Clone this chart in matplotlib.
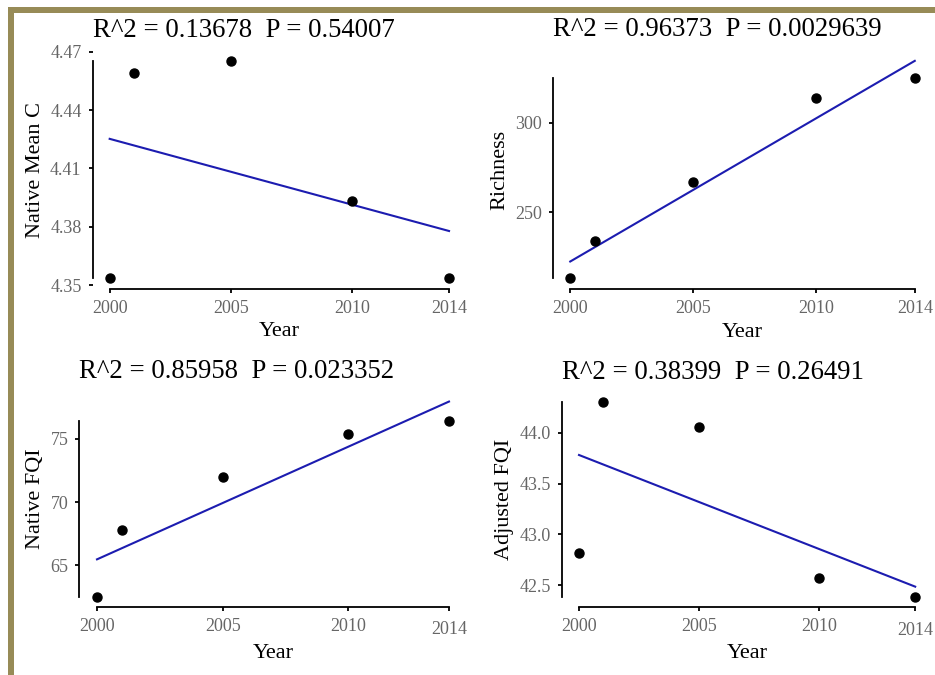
import numpy as np
import matplotlib
matplotlib.use("Agg")
import matplotlib.pyplot as plt
from matplotlib.patches import Rectangle

years = [2000, 2001, 2005, 2010, 2014]
native_mean_c = [4.3537, 4.459, 4.465, 4.393, 4.3537]
richness = [213.3, 234.2, 266.8, 313.8, 324.8]
native_fqi = [62.5, 67.8, 72.0, 75.4, 76.4]
adjusted_fqi = [42.82, 44.30, 44.06, 42.57, 42.38]

titles = ["R^2 = 0.13678  P = 0.54007",
          "R^2 = 0.96373  P = 0.0029639",
          "R^2 = 0.85958  P = 0.023352",
          "R^2 = 0.38399  P = 0.26491"]
ylabels = ["Native Mean C", "Richness", "Native FQI", "Adjusted FQI"]
series = [native_mean_c, richness, native_fqi, adjusted_fqi]
yticks = [[4.35, 4.38, 4.41, 4.44, 4.47], [250, 300], [65, 70, 75],
          [42.5, 43.0, 43.5, 44.0]]
ytick_fmt = ["{:.2f}", "{:.0f}", "{:.0f}", "{:.1f}"]
xticks = [2000, 2005, 2010, 2014]

plt.rcParams['font.family'] = ['Liberation Serif', 'DejaVu Serif']

fig = plt.figure(figsize=(9.35, 6.75), dpi=100)
W, H = 935, 675
# axes boxes in pixels: left, right, top, bottom
boxes = [(92.7, 466, 50.6, 288.7),
         (553, 932, 50, 289),
         (79.4, 466.6, 391.8, 606.5),
         (562.2, 932, 392.7, 607)]

# olive border on left and top
fig.patches.append(Rectangle((8 / W, 0), 6 / W, 1 - 7 / H, transform=fig.transFigure,
                             facecolor='#978b57', edgecolor='none'))
fig.patches.append(Rectangle((8 / W, 1 - 12.5 / H), 1 - 8 / W, 5.5 / H, transform=fig.transFigure,
                             facecolor='#978b57', edgecolor='none'))

tick_gray = '#666666'
x = np.array(years, dtype=float)
for i, (l, r, t, b) in enumerate(boxes):
    ax = fig.add_axes([l / W, 1 - b / H, (r - l) / W, (b - t) / H])
    y = np.array(series[i], dtype=float)
    coef = np.polyfit(x, y, 1)
    xl = np.array([x.min(), x.max()])
    yl = np.polyval(coef, xl)
    ax.plot(xl, yl, color='#1c1cb0', lw=1.5, zorder=2)
    ax.plot(x, y, 'o', color='black', markersize=6.5, zorder=3)
    ymin = min(y.min(), yl.min())
    ymax = max(y.max(), yl.max())
    ex = 0.05 * (ymax - ymin)
    ax.set_ylim(ymin - ex, ymax + ex)
    ax.set_xlim(1999.3, 2014.7)
    for s in ['top', 'right']:
        ax.spines[s].set_visible(False)
    ax.spines['left'].set_bounds(y.min(), y.max())
    ax.spines['bottom'].set_bounds(2000, 2014)
    for s in ['left', 'bottom']:
        ax.spines[s].set_linewidth(1.3)
    ax.set_xticks(xticks)
    ax.set_xticklabels([str(v) for v in xticks])
    ax.set_yticks(yticks[i])
    ax.set_yticklabels([ytick_fmt[i].format(v) for v in yticks[i]])
    ax.tick_params(axis='both', length=3, width=1.3, labelsize=13,
                   labelcolor=tick_gray, pad=5)
    ax.set_xlabel("Year", fontsize=16, labelpad=4)
    ax.set_ylabel(ylabels[i], fontsize=16, labelpad=4)
    ax.set_title(titles[i], loc='left', fontsize=19.3, pad=10)
    if i >= 2:
        ax.xaxis.get_major_ticks()[3].set_pad(7.5)

fig.savefig("out.png", dpi=100)
